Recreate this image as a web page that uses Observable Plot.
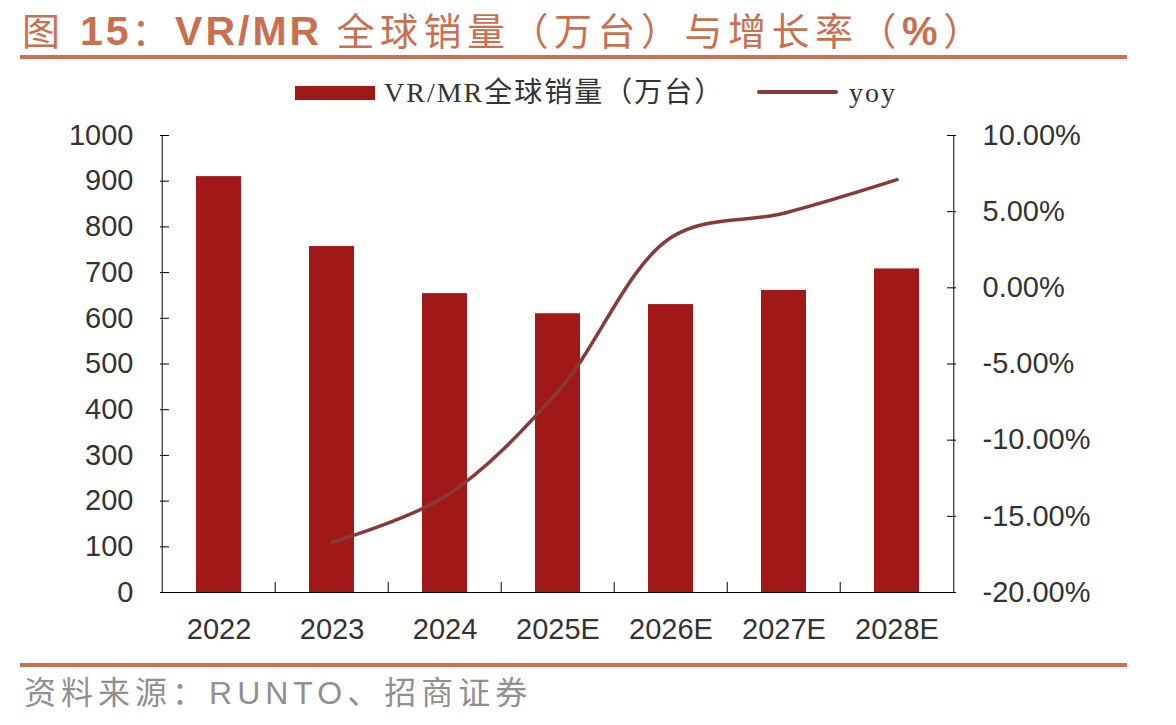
<!DOCTYPE html>
<html>
<head>
<meta charset="utf-8">
<script src="https://cdn.jsdelivr.net/npm/d3@7"></script>
<script src="https://cdn.jsdelivr.net/npm/@observablehq/plot@0.6"></script>
<style>
  html, body { margin: 0; padding: 0; background: #fff; }
  #page { position: relative; width: 1176px; height: 725px; overflow: hidden; background: #fff; }
  .abs { position: absolute; white-space: nowrap; }
  #title { left: 22px; top: 3px; font-size: 41px; line-height: 52px; letter-spacing: 3px; color: #C8704F; font-family: "Liberation Sans", Arial, sans-serif; }
  #title .cjk { font-family: "Noto Sans CJK SC", sans-serif; font-weight: 400; font-size: 38px; letter-spacing: 5.5px; }
  #title b { font-weight: 700; }
  .rule { position: absolute; left: 20px; width: 1107px; height: 4px; background: #C8704F; }
  .legtext { font-size: 28px; line-height: 34px; letter-spacing: 2px; color: #333; font-family: "Liberation Serif", "Noto Sans CJK SC", serif; }
  #caption { left: 24px; top: 670px; font-size: 32px; line-height: 40px; color: #909090; letter-spacing: 5px; font-family: "Noto Sans CJK SC", sans-serif; }
  #caption .lat { font-family: "Liberation Sans", Arial, sans-serif; }
  #chart { position: absolute; left: 0; top: 110px; }
</style>
</head>
<body>
<div id="page">
  <div id="title" class="abs"><span class="cjk">图</span> <b>15</b><span class="cjk">：</span><b>VR/MR</b> <span class="cjk">全球销量（万台）与增长率（<b style="font-family:'Liberation Sans',Arial,sans-serif; font-size:40px">%</b>）</span></div>
  <div class="rule" style="top:55px"></div>
  <div class="abs" style="left:295px; top:86px; width:80px; height:14px; background:#A01818"></div>
  <div class="abs legtext" style="left:384px; top:76px">VR/MR全球销量（万台）</div>
  <div class="abs" style="left:757px; top:90px; width:81px; height:4px; background:#873A36; border-radius:2px"></div>
  <div class="abs legtext" style="left:849px; top:76px">yoy</div>
  <div id="chart"></div>
  <div class="rule" style="top:663px"></div>
  <div id="caption" class="abs">资料来源：<span class="lat">RUNTO</span>、招商证券</div>
</div>
<script>
// ---- data ----
const years = ["2022", "2023", "2024", "2025E", "2026E", "2027E", "2028E"];
const sales = [910, 757, 654, 610, 630, 661, 708];          // 万台
const yoyYears = ["2023", "2024", "2025E", "2026E", "2027E", "2028E"];
const yoy = [-16.7, -13.7, -6.8, 3.3, 4.9, 7.1];            // %
const leftTicks = [0, 100, 200, 300, 400, 500, 600, 700, 800, 900, 1000];
const rightTicks = [-20, -15, -10, -5, 0, 5, 10];

// ---- layout ----
const W = 1176, H = 560;
const mL = 160, mR = 221, mT = 25, mB = 78;
const step = (W - mL - mR) / years.length;

// right axis (-20%..10%) mapped onto left axis (0..1000)
const rMin = rightTicks[0], rMax = rightTicks[rightTicks.length - 1];
const lMax = leftTicks[leftTicks.length - 1];
const toLeft = v => (v - rMin) / (rMax - rMin) * lMax;
const rightLabel = v => {
  let best = rightTicks[0];
  for (const t of rightTicks) if (Math.abs(toLeft(t) - v) < Math.abs(toLeft(best) - v)) best = t;
  return best.toFixed(2) + "%";
};

const barData = years.map((y, i) => ({year: y, sales: sales[i]}));
const lineData = yoyYears.map((y, i) => ({year: y, yoy: yoy[i]}));

const font = "Liberation Sans, Arial, sans-serif";

const chart = Plot.plot({
  width: W, height: H,
  marginLeft: mL, marginRight: mR, marginTop: mT, marginBottom: mB,
  style: {fontFamily: font, background: "white", overflow: "visible"},
  x: {domain: years, paddingInner: 0.6, paddingOuter: 0.3, label: null},
  y: {domain: [0, lMax], label: null},
  marks: [
    Plot.barY(barData, {x: "year", y: "sales", fill: "#A01818"}),
    // axis lines
    Plot.ruleY([0], {stroke: "#000", strokeWidth: 1}),
    Plot.ruleX([years[0]], {dx: -step / 2, stroke: "#000", strokeWidth: 1}),
    Plot.ruleX([years[years.length - 1]], {dx: step / 2, stroke: "#000", strokeWidth: 1}),
    // left axis
    Plot.axisY(leftTicks, {anchor: "left", tickSize: 0, tickPadding: 27, fontSize: 29, fill: "#333", tickFormat: d => String(d)}),
    Plot.axisY(leftTicks, {anchor: "left", tickSize: 9, dx: 9, stroke: "#000", tickFormat: () => ""}),
    // right axis
    Plot.axisY(rightTicks.map(toLeft), {anchor: "right", tickSize: 0, tickPadding: 27, fontSize: 29, fill: "#333", tickFormat: rightLabel}),
    Plot.axisY(rightTicks.map(toLeft), {anchor: "right", tickSize: 9, dx: -9, stroke: "#000", tickFormat: () => ""}),
    // x axis labels and category separators
    Plot.axisX(years, {anchor: "bottom", tickSize: 0, tickPadding: 26, fontSize: 29, fill: "#333"}),
    Plot.axisX(years.slice(1), {anchor: "bottom", tickSize: 10, dx: -step / 2, dy: -10, stroke: "#000", tickFormat: () => ""}),
    // yoy line
    Plot.line(lineData, {x: "year", y: d => toLeft(d.yoy), stroke: "#873A36", strokeWidth: 3.5, curve: "catmull-rom", strokeLinecap: "round"})
  ]
});
document.getElementById("chart").appendChild(chart);
</script>
</body>
</html>
